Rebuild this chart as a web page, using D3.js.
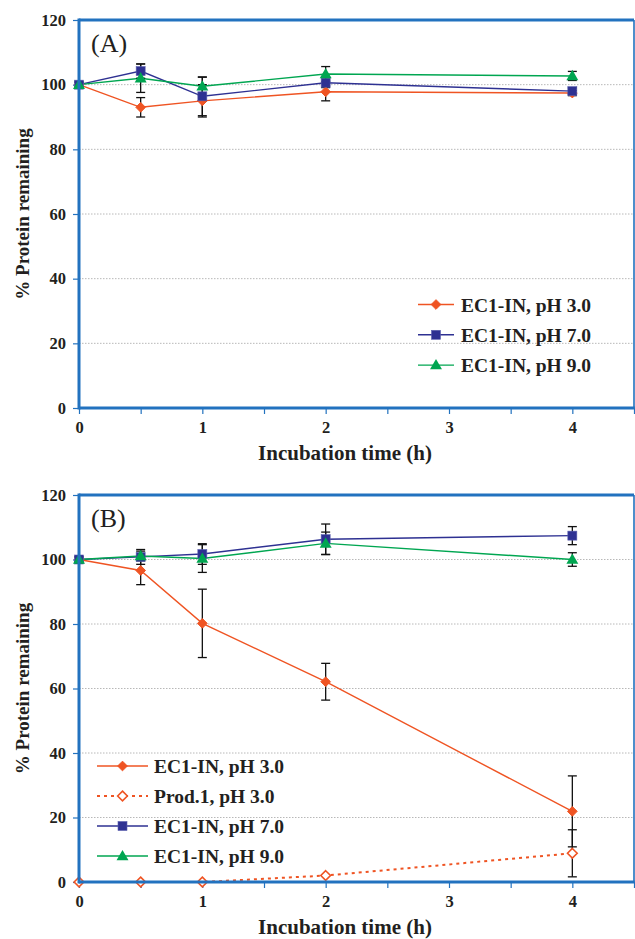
<!DOCTYPE html>
<html>
<head>
<meta charset="utf-8">
<script src="https://cdn.jsdelivr.net/npm/d3@7"></script>
<style>
  html, body { margin: 0; padding: 0; background: #fff; }
  svg text { font-family: "Liberation Serif", "Times New Roman", serif; fill: #231f20; }
</style>
</head>
<body>
<svg id="chart" width="635" height="939"></svg>
<script>
// Sampling times (h)
const times = [0, 0.5, 1, 2, 4];
const xTicks = [0, 1, 2, 3, 4];
const yTicks = [0, 20, 40, 60, 80, 100, 120];

// Panel A: % protein remaining and standard deviations
const aPH3 = [100, 93.0, 95.0, 97.8, 97.4];
const aPH3Err = [0.8, 3.0, 5.0, 2.8, 0.8];
const aPH7 = [100, 104.2, 96.4, 100.6, 98.0];
const aPH7Err = [0.8, 2.2, 6.0, 1.5, 1.0];
const aPH9 = [100, 102.0, 99.5, 103.3, 102.7];
const aPH9Err = [0.8, 4.4, 2.8, 2.3, 1.4];

// Panel B
const bPH3 = [100, 96.6, 80.2, 62.1, 21.9];
const bPH3Err = [0.8, 4.4, 10.6, 5.7, 11.0];
const bProd = [0, 0, 0, 2.0, 8.9];
const bProdErr = [0, 0, 0, 0, 7.3];
const bPH7 = [100, 100.8, 101.7, 106.3, 107.4];
const bPH7Err = [0.8, 2.3, 3.2, 4.7, 2.8];
const bPH9 = [100, 101.1, 100.3, 105.0, 100.0];
const bPH9Err = [0.8, 1.5, 4.3, 3.5, 2.1];

const ORANGE = "#ef5423", NAVY = "#2e3192", GREEN = "#00a651", FRAME = "#2272bf";

const svg = d3.select("#chart");

function series(label, values, errors, color, shape, dashed) {
  return { label, values, errors, color, shape, dashed };
}

function drawMarker(g, shape, color, x, y, open) {
  if (shape === "diamond") {
    g.append("path")
      .attr("d", d3.symbol(d3.symbolDiamond2, 60)())
      .attr("transform", `translate(${x},${y})`)
      .attr("fill", open ? "#fff" : color)
      .attr("stroke", color).attr("stroke-width", open ? 1.6 : 1);
  } else if (shape === "square") {
    g.append("rect").attr("x", x - 4.5).attr("y", y - 4.5)
      .attr("width", 9).attr("height", 9)
      .attr("fill", color).attr("stroke", "#5a5fae").attr("stroke-width", 0.6);
  } else {
    g.append("path")
      .attr("d", d3.symbol(d3.symbolTriangle, 62)())
      .attr("transform", `translate(${x},${y + 0.8})`)
      .attr("fill", color);
  }
}

function panel(opts) {
  const { top, bottom, left, right, tag, list, legend } = opts;
  const x = d3.scaleLinear().domain([0, 4.5]).range([left, right]);
  const y = d3.scaleLinear().domain([0, 120]).range([bottom, top]);
  const g = svg.append("g");

  // horizontal dotted gridlines
  g.selectAll(".grid").data(yTicks.filter(v => v > 0 && v < 120)).enter()
    .append("line")
    .attr("x1", left).attr("x2", right)
    .attr("y1", d => y(d)).attr("y2", d => y(d))
    .attr("stroke", "#b8b8b8").attr("stroke-width", 1)
    .attr("stroke-dasharray", "1.5,1.5");

  // left axis
  const yAxis = d3.axisLeft(y).tickValues(yTicks).tickSize(6).tickPadding(7);
  const ya = g.append("g").attr("transform", `translate(${left},0)`).call(yAxis);
  ya.select(".domain").remove();
  ya.selectAll(".tick line").attr("stroke", FRAME).attr("stroke-width", 1.2);
  ya.selectAll(".tick text").attr("font-size", 16.5).attr("font-weight", "bold")
    .attr("font-family", "Liberation Serif").attr("fill", "#231f20");

  // bottom axis, ticks every half hour
  const xAxis = d3.axisBottom(x).tickValues(d3.range(0, 4.51, 0.5)).tickSize(6).tickPadding(7)
    .tickFormat(d => xTicks.includes(d) ? d3.format("d")(d) : "");
  const xa = g.append("g").attr("transform", `translate(0,${bottom})`).call(xAxis);
  xa.select(".domain").remove();
  xa.selectAll(".tick line").attr("stroke", FRAME).attr("stroke-width", 1.2);
  xa.selectAll(".tick text").attr("font-size", 16.5).attr("font-weight", "bold")
    .attr("font-family", "Liberation Serif").attr("fill", "#231f20");

  // frame
  g.append("line").attr("x1", left).attr("x2", right).attr("y1", top).attr("y2", top)
    .attr("stroke", FRAME).attr("stroke-width", 3);
  g.append("line").attr("x1", right).attr("x2", right).attr("y1", top).attr("y2", bottom)
    .attr("stroke", FRAME).attr("stroke-width", 1.6);

  // series lines
  const line = d3.line().x((d, i) => x(times[i])).y(d => y(d));
  list.forEach(s => {
    g.append("path").datum(s.values).attr("d", line)
      .attr("fill", "none").attr("stroke", s.color)
      .attr("stroke-width", s.dashed ? 2 : 1.4)
      .attr("stroke-dasharray", s.dashed ? "3,4" : null);
  });

  // error bars
  list.forEach(s => {
    s.values.forEach((v, i) => {
      const e = s.errors[i];
      if (!e) return;
      const cx = x(times[i]);
      g.append("line").attr("x1", cx).attr("x2", cx)
        .attr("y1", y(v - e)).attr("y2", y(v + e))
        .attr("stroke", "#111").attr("stroke-width", 1.3);
      [v - e, v + e].forEach(w => {
        g.append("line").attr("x1", cx - 4.5).attr("x2", cx + 4.5)
          .attr("y1", y(w)).attr("y2", y(w))
          .attr("stroke", "#111").attr("stroke-width", 1.3);
      });
    });
  });

  // markers
  list.forEach(s => {
    s.values.forEach((v, i) => drawMarker(g, s.shape, s.color, x(times[i]), y(v), s.dashed));
  });

  // axis lines (thick left and bottom)
  g.append("line").attr("x1", left).attr("x2", left).attr("y1", top - 1.5).attr("y2", bottom + 1.5)
    .attr("stroke", FRAME).attr("stroke-width", 3);
  g.append("line").attr("x1", left).attr("x2", right + 0.8).attr("y1", bottom).attr("y2", bottom)
    .attr("stroke", FRAME).attr("stroke-width", 3);

  // panel tag
  g.append("text").attr("x", left + 12).attr("y", top + 32)
    .attr("font-size", 26).text(tag);

  // axis titles
  g.append("text").attr("x", 345).attr("y", bottom + 52)
    .attr("text-anchor", "middle").attr("font-size", 21).attr("font-weight", "bold")
    .text("Incubation time (h)");
  g.append("text")
    .attr("transform", `translate(29,${(top + bottom) / 2}) rotate(-90)`)
    .attr("text-anchor", "middle").attr("font-size", 19).attr("font-weight", "bold")
    .text("% Protein remaining");

  // legend
  const lg = g.append("g");
  list.forEach((s, i) => {
    const ly = legend.y + i * legend.dy;
    lg.append("line").attr("x1", legend.x).attr("x2", legend.x + legend.w)
      .attr("y1", ly).attr("y2", ly)
      .attr("stroke", s.color).attr("stroke-width", s.dashed ? 2 : 1.4)
      .attr("stroke-dasharray", s.dashed ? "3,4" : null);
    drawMarker(lg, s.shape, s.color, legend.x + legend.w / 2, ly, s.dashed);
    lg.append("text").attr("x", legend.tx).attr("y", ly + 7)
      .attr("font-size", 19.5).attr("font-weight", "bold").text(s.label);
  });
}

panel({
  top: 20, bottom: 408, left: 79, right: 634, tag: "(A)",
  list: [
    series("EC1-IN, pH 3.0", aPH3, aPH3Err, ORANGE, "diamond", false),
    series("EC1-IN, pH 7.0", aPH7, aPH7Err, NAVY, "square", false),
    series("EC1-IN, pH 9.0", aPH9, aPH9Err, GREEN, "triangle", false)
  ],
  legend: { x: 418, w: 36, tx: 461, y: 304.5, dy: 30.3 }
});

panel({
  top: 495, bottom: 882, left: 79, right: 634, tag: "(B)",
  list: [
    series("EC1-IN, pH 3.0", bPH3, bPH3Err, ORANGE, "diamond", false),
    series("Prod.1, pH 3.0", bProd, bProdErr, ORANGE, "diamond", true),
    series("EC1-IN, pH 7.0", bPH7, bPH7Err, NAVY, "square", false),
    series("EC1-IN, pH 9.0", bPH9, bPH9Err, GREEN, "triangle", false)
  ],
  legend: { x: 97, w: 51, tx: 154, y: 766, dy: 30 }
});
</script>
</body>
</html>
